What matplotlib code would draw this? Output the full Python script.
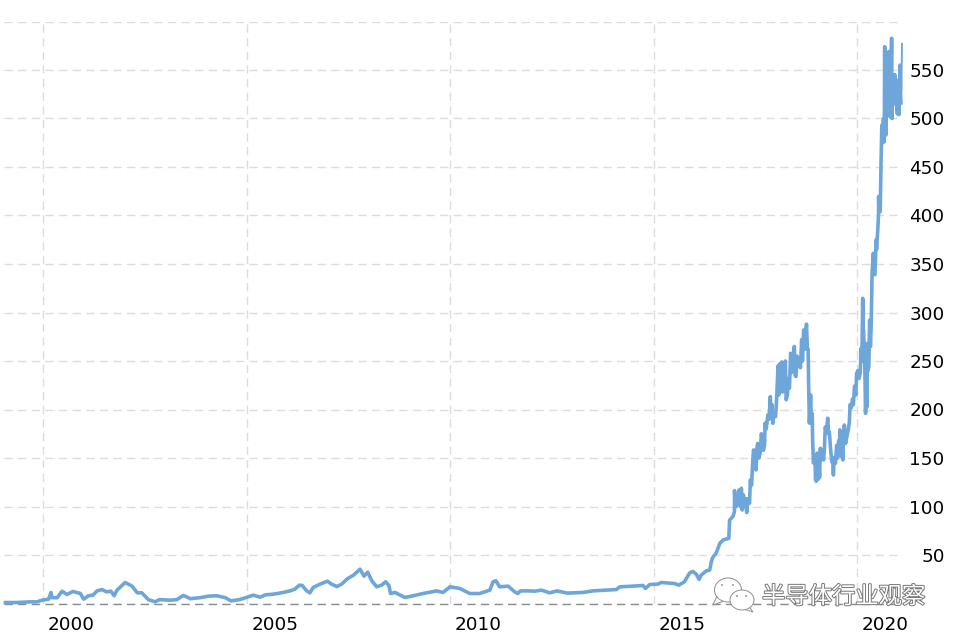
import matplotlib
matplotlib.use("Agg")
import matplotlib.pyplot as plt
import matplotlib.patheffects as pe
from matplotlib.patches import Ellipse, Polygon
from matplotlib.transforms import ScaledTranslation

# date as fractional year, price
years = [
    1999.07, 1999.35, 1999.68, 1999.84, 1999.97, 2000.13, 2000.19, 2000.21, 2000.34, 2000.46,
    2000.58, 2000.73, 2000.91, 2000.99, 2001.11, 2001.22, 2001.32, 2001.44, 2001.55, 2001.66,
    2001.74, 2001.81, 2002.01, 2002.18, 2002.31, 2002.42, 2002.58, 2002.75, 2002.85, 2003.12,
    2003.28, 2003.44, 2003.61, 2003.85, 2004.06, 2004.26, 2004.47, 2004.61, 2004.83,
    2005.04, 2005.16, 2005.33, 2005.45, 2005.65, 2005.90, 2006.06, 2006.18, 2006.29, 2006.36,
    2006.47, 2006.55, 2006.63, 2006.80, 2006.98, 2007.08, 2007.21, 2007.33, 2007.47, 2007.62,
    2007.78, 2007.88, 2007.97, 2008.07, 2008.19, 2008.31, 2008.41, 2008.49, 2008.53, 2008.64,
    2008.88, 2009.09, 2009.33, 2009.66, 2009.82, 2009.99, 2010.23, 2010.48, 2010.72, 2010.97,
    2011.05, 2011.12, 2011.21, 2011.42, 2011.58, 2011.66, 2011.72, 2011.95, 2012.07, 2012.24,
    2012.44, 2012.62, 2012.87, 2013.26, 2013.50, 2014.08, 2014.16, 2014.49, 2014.73, 2014.79,
    2014.90, 2015.10, 2015.18, 2015.51, 2015.61, 2015.75, 2015.88, 2015.96, 2016.04, 2016.11,
    2016.16, 2016.29, 2016.37, 2016.41, 2016.44, 2016.53, 2016.62, 2016.70, 2016.84, 2016.86,
    2016.94, 2016.98, 2016.98, 2017.02, 2017.05, 2017.09, 2017.12, 2017.15, 2017.17, 2017.20,
    2017.23, 2017.25, 2017.28, 2017.31, 2017.35, 2017.37, 2017.40, 2017.43, 2017.45, 2017.48,
    2017.51, 2017.53, 2017.55, 2017.58, 2017.61, 2017.64, 2017.66, 2017.69, 2017.72, 2017.73,
    2017.76, 2017.80, 2017.83, 2017.86, 2017.88, 2017.90, 2017.92, 2017.95, 2017.99, 2018.02,
    2018.05, 2018.07, 2018.09, 2018.11, 2018.14, 2018.16, 2018.19, 2018.21, 2018.23, 2018.25,
    2018.28, 2018.30, 2018.33, 2018.36, 2018.38, 2018.41, 2018.43, 2018.45, 2018.47, 2018.49,
    2018.52, 2018.55, 2018.58, 2018.60, 2018.63, 2018.65, 2018.68, 2018.70, 2018.73, 2018.75,
    2018.77, 2018.79, 2018.80, 2018.82, 2018.85, 2018.87, 2018.89, 2018.90, 2018.92, 2018.94,
    2018.96, 2018.97, 2018.99, 2019.01, 2019.03, 2019.05, 2019.07, 2019.09, 2019.11, 2019.13,
    2019.15, 2019.17, 2019.19, 2019.21, 2019.24, 2019.27, 2019.29, 2019.31, 2019.34, 2019.37,
    2019.39, 2019.41, 2019.43, 2019.46, 2019.49, 2019.51, 2019.54, 2019.56, 2019.57, 2019.60,
    2019.62, 2019.64, 2019.66, 2019.68, 2019.71, 2019.74, 2019.77, 2019.80, 2019.82, 2019.85,
    2019.88, 2019.90, 2019.93, 2019.96, 2019.98, 2020.01, 2020.04, 2020.07, 2020.09, 2020.11,
    2020.13, 2020.14, 2020.15, 2020.18, 2020.20, 2020.22, 2020.24, 2020.24, 2020.26, 2020.28,
    2020.30, 2020.32, 2020.34, 2020.36, 2020.39, 2020.41, 2020.43, 2020.46, 2020.47, 2020.50,
    2020.52, 2020.52, 2020.54, 2020.56, 2020.58, 2020.60, 2020.62, 2020.64, 2020.66, 2020.67,
    2020.68, 2020.69, 2020.70, 2020.71, 2020.72, 2020.74, 2020.75, 2020.76, 2020.77, 2020.78,
    2020.79, 2020.80, 2020.81, 2020.82, 2020.84, 2020.85, 2020.86, 2020.87, 2020.88, 2020.89,
    2020.90, 2020.91, 2020.92, 2020.94, 2020.95, 2020.96, 2020.98, 2021.00, 2021.02, 2021.03,
    2021.05, 2021.06, 2021.07,
]
prices = [
    1, 1, 1.7, 1.7, 3.4, 4.5, 11.4, 6, 6, 12.7,
    9.3, 12.4, 10.3, 4.5, 8, 8.6, 13, 14.4, 12, 12.7,
    8, 13.8, 21.7, 17.9, 11, 11, 4, 1.7, 4, 3.4,
    4, 8.3, 5, 6, 7.6, 8, 6, 2.7, 4.1,
    6.9, 8.6, 6.5, 8.9, 9.6, 11.4, 13, 14.8, 18.9, 18.6,
    13, 11, 16.5, 20, 23, 20, 17.5, 20, 25.5, 29.2,
    35.4, 28.2, 32.3, 23.4, 17.2, 18.9, 22.4, 18.6, 10.3, 11.4,
    6.2, 8, 10.3, 13, 11.4, 17.2, 15.5, 10.3, 10.3, 13.8,
    22.4, 23.4, 17.2, 17.9, 12, 10.3, 13, 13, 12.7, 13.8,
    11, 13, 10.7, 11.4, 13, 14.4, 17.2, 17.9, 18.6, 15.5,
    19.6, 20, 21.7, 20.6, 18.9, 22.4, 31.6, 33, 30.3, 24.8,
    29.2, 33.7, 34.4, 43, 47, 52, 62, 65.5, 67.2, 86,
    89.6, 94.7, 116.4, 99.9, 104, 117, 100, 118.8, 96.4, 112,
    100, 108, 93.7, 108, 103.3, 127.4, 122, 148, 158.3, 140,
    137.7, 160, 165, 150, 154.9, 175, 170.3, 158, 163.4, 185.8,
    180, 194.4, 190, 213.3, 195, 205, 185.8, 195, 192.7, 215,
    245, 215, 247, 222, 249, 218, 248, 228, 250, 210,
    215, 232, 222, 258, 238, 255, 245, 265, 235, 234,
    255, 245, 250, 243, 272, 250, 282, 262, 280, 288,
    262, 262, 230, 186, 215, 186, 196, 168, 145, 150,
    148, 128, 126, 155, 128, 150, 130, 160, 148, 158,
    150, 148, 160, 182, 178, 191, 175, 177, 160, 146,
    150, 132.5, 150, 144.5, 163, 150, 168, 158, 179, 152,
    165, 148, 175, 184, 165, 172, 178, 186, 205, 202,
    211, 205, 224, 215, 237, 240, 232, 238, 263, 250,
    314.6, 280, 282, 250, 196, 230, 203, 268, 240, 244,
    292, 265, 289, 340, 361, 340, 339, 375, 365, 385,
    402, 419.5, 405, 404, 454, 493, 475, 500, 476, 574,
    500, 540, 483, 550, 510, 555, 505, 540, 569, 510,
    565, 502, 550, 520, 582.7, 500, 545, 520, 540, 515,
    545, 522, 545, 518, 540, 515, 505, 535, 504, 530,
    555, 525, 516,
]
# thin last stretch at the right end
end_years = [2021.07, 2021.09, 2021.09]
end_prices = [516, 577.5, 530]

grid_years = [2000, 2005, 2010, 2015, 2020]
year_labels = ["2000", "2005", "2010", "2015", "2020"]
price_ticks = [0, 50, 100, 150, 200, 250, 300, 350, 400, 450, 500, 550, 600]
price_labels = ["", "50", "100", "150", "200", "250", "300", "350", "400", "450", "500", "550", ""]

W, H = 960, 639
line_color = "#6ea6da"
grid_color = "#dcdcdc"

fig = plt.figure(figsize=(W / 100, H / 100), dpi=100)
ax = fig.add_axes([4 / W, 1 - 603.5 / H, 899 / W, (603.5 - 21.5) / H])
ax.set_xlim(1999.034, 2021.12)
ax.set_ylim(0, 600)
for s in ax.spines.values():
    s.set_visible(False)

ax.set_xticks(grid_years, year_labels)
ax.yaxis.tick_right()
ax.set_yticks(price_ticks, price_labels)
ax.tick_params(axis="both", length=0, labelsize=13.2, colors="black")
ax.tick_params(axis="x", pad=9)
ax.tick_params(axis="y", pad=30)
for lab in ax.get_yticklabels():
    lab.set_ha("right")
shift = ScaledTranslation(4.4 / 100, 0, fig.dpi_scale_trans)
for lab in ax.get_xticklabels():
    lab.set_ha("left")
    lab.set_transform(lab.get_transform() + shift)

ax.grid(True, color=grid_color, linewidth=1.0, dashes=(6, 3.8))
ax.set_axisbelow(True)
ax.axhline(0, color="#8c8c8c", linewidth=1.0, dashes=(6, 3.8), zorder=1.5, clip_on=False)

ax.plot(years, prices, color=line_color, linewidth=2.6, solid_joinstyle="round", zorder=3, clip_on=False)
ax.plot(end_years, end_prices, color=line_color, linewidth=1.0, zorder=3, clip_on=False)

# watermark in pixel coordinates
ov = fig.add_axes([0, 0, 1, 1], facecolor="none")
ov.set_xlim(0, W)
ov.set_ylim(H, 0)
ov.axis("off")
edge = "#8f8f8f"
ov.add_patch(Polygon([(717, 596), (713, 605), (724, 601)], fc="white", ec=edge, lw=0.7, zorder=5))
ov.add_patch(Ellipse((728, 590), 27, 24, fc="white", ec=edge, lw=0.7, zorder=5))
ov.add_patch(Polygon([(748, 605), (753, 612), (740, 608)], fc="white", ec=edge, lw=0.7, zorder=6))
ov.add_patch(Ellipse((742, 600), 24, 20, fc="white", ec=edge, lw=0.7, zorder=6))
for ex, ey in [(722, 585), (733, 585), (737, 596), (746, 596)]:
    ov.add_patch(Ellipse((ex, ey), 2, 2, fc="#9a9a9a", ec="none", zorder=7))
ov.text(762, 597, "半导体行业观察", fontsize=16.8, family=["Noto Sans CJK SC", "DejaVu Sans"],
        color="white", ha="left", va="center", zorder=8,
        path_effects=[pe.withStroke(linewidth=1.4, foreground="#777777")])

plt.savefig("out.png", dpi=100)
